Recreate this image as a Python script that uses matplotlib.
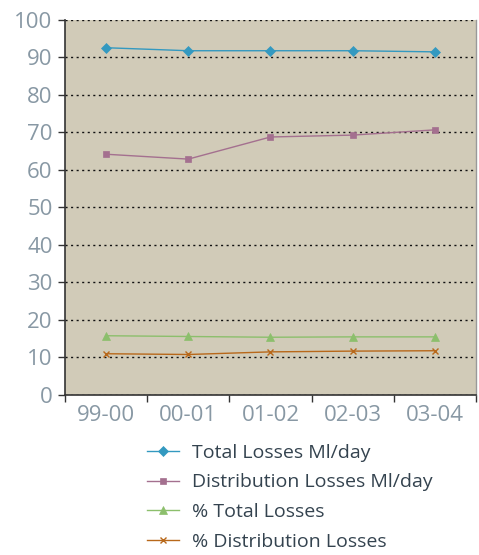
import matplotlib
matplotlib.use("Agg")
import matplotlib.pyplot as plt
import numpy as np

years = ["99-00", "00-01", "01-02", "02-03", "03-04"]
total_losses = [92.6, 91.8, 91.8, 91.8, 91.5]
distribution_losses = [64.2, 62.9, 68.8, 69.3, 70.7]
pct_total_losses = [15.8, 15.6, 15.4, 15.5, 15.5]
pct_distribution_losses = [11.0, 10.8, 11.5, 11.7, 11.8]

plt.rcParams["font.family"] = ["Open Sans", "DejaVu Sans"]

fig = plt.figure(figsize=(4.79, 5.55), dpi=100)
ax = fig.add_axes([0.1357, 0.2883, 0.8580, 0.6757])
ax.set_facecolor("#d1cbb8")

x = np.arange(len(years))
series = [
    (total_losses, "Total Losses Ml/day", "#3399c0", "D", 5),
    (distribution_losses, "Distribution Losses Ml/day", "#a4708f", "s", 5),
    (pct_total_losses, "% Total Losses", "#8cbf6c", "^", 6),
    (pct_distribution_losses, "% Distribution Losses", "#b8681a", "x", 5),
]
for vals, label, color, marker, ms in series:
    ax.plot(x, vals, color=color, lw=1.0, marker=marker, ms=ms,
            markeredgewidth=1.0 if marker == "x" else 0.5, label=label, zorder=3)

ax.set_xlim(-0.5, len(years) - 0.5)
ax.set_ylim(0, 100)
ax.set_yticks(range(0, 101, 10))
ax.set_xticks(x)
ax.set_xticklabels(years)
ax.set_xticks(np.arange(-0.5, len(years)), minor=True)
ax.tick_params(axis="x", which="major", length=0, pad=7, labelsize=16, labelcolor="#8898a4")
ax.tick_params(axis="x", which="minor", length=5, color="#333333", width=1)
ax.tick_params(axis="y", length=5, color="#333333", width=1, labelsize=16,
               labelcolor="#8898a4", pad=4)

ax.yaxis.grid(True, linestyle=(0, (1.5, 2.5)), color="#111111", lw=1.0)
ax.set_axisbelow(True)
for side in ["left", "bottom"]:
    ax.spines[side].set_color("#333333")
    ax.spines[side].set_linewidth(1.2)
ax.spines["top"].set_visible(False)
ax.spines["right"].set_color("#999999")
ax.spines["right"].set_linewidth(1.0)

leg = fig.legend(loc="upper left", bbox_to_anchor=(0.27, 0.232), frameon=False,
                 fontsize=14, handlelength=1.65, labelspacing=0.6, handletextpad=0.67,
                 labelcolor="#34434f")

fig.savefig("out.png", dpi=100)
